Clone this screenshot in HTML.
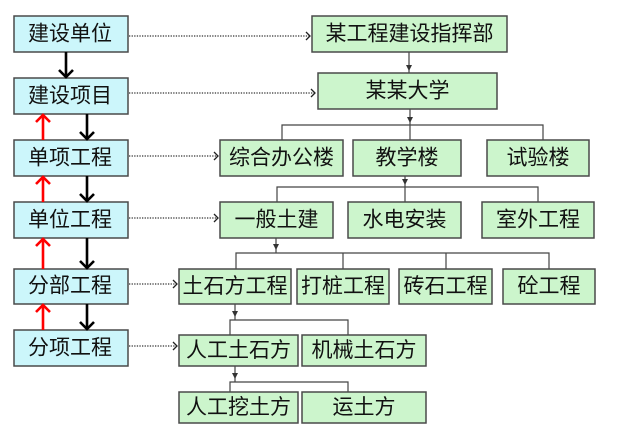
<!DOCTYPE html>
<html><head><meta charset="utf-8"><style>
html,body{margin:0;padding:0;background:#fff;}
svg{display:block;}
text{font-family:"Liberation Sans","Noto Sans CJK SC",sans-serif;font-size:21px;fill:#111;text-anchor:middle;dominant-baseline:central;}
.b{fill:#ccf6fb;stroke:#4a4a4a;stroke-width:1.5;}
.g{fill:#ccf5cc;stroke:#4a4a4a;stroke-width:1.5;}
.c{stroke:#444;stroke-width:1.2;fill:none;}
.d{stroke:#333;stroke-width:1.3;stroke-dasharray:1.3 1.3;fill:none;}
.dh{stroke:#222;stroke-width:1.3;fill:none;}
.k{stroke:#000;stroke-width:2.6;fill:none;}
.r{stroke:#f00;stroke-width:2.6;fill:none;}
</style></head><body>
<svg width="640" height="437" viewBox="0 0 640 437" xmlns="http://www.w3.org/2000/svg">
<!-- left boxes -->
<rect class="b" x="14" y="16" width="114" height="36"/><text x="70" y="34">建设单位</text>
<rect class="b" x="14" y="78" width="114" height="36"/><text x="70" y="96">建设项目</text>
<rect class="b" x="14" y="140" width="114" height="36"/><text x="70" y="158">单项工程</text>
<rect class="b" x="14" y="202" width="114" height="36"/><text x="70" y="220">单位工程</text>
<rect class="b" x="14" y="269" width="114" height="35"/><text x="70" y="286">分部工程</text>
<rect class="b" x="14" y="330" width="114" height="36"/><text x="70" y="348">分项工程</text>

<!-- black arrows -->
<line class="k" x1="66" y1="52" x2="66" y2="77"/><polyline class="k" points="59,70 66,77 73,70"/>
<line class="k" x1="87" y1="114" x2="87" y2="139"/><polyline class="k" points="80,132 87,139 94,132"/>
<line class="k" x1="87" y1="176" x2="87" y2="201"/><polyline class="k" points="80,194 87,201 94,194"/>
<line class="k" x1="87" y1="238" x2="87" y2="268"/><polyline class="k" points="80,261 87,268 94,261"/>
<line class="k" x1="87" y1="304" x2="87" y2="329"/><polyline class="k" points="80,322 87,329 94,322"/>
<!-- red arrows -->
<line class="r" x1="43" y1="140" x2="43" y2="115"/><polyline class="r" points="36,122 43,115 50,122"/>
<line class="r" x1="43" y1="202" x2="43" y2="177"/><polyline class="r" points="36,184 43,177 50,184"/>
<line class="r" x1="43" y1="269" x2="43" y2="239"/><polyline class="r" points="36,246 43,239 50,246"/>
<line class="r" x1="43" y1="330" x2="43" y2="305"/><polyline class="r" points="36,312 43,305 50,312"/>

<!-- dotted arrows -->
<line class="d" x1="129" y1="36" x2="310" y2="36"/><polyline class="dh" points="306,32 310,36 306,40"/>
<line class="d" x1="129" y1="93" x2="315" y2="93"/><polyline class="dh" points="311,89 315,93 311,97"/>
<line class="d" x1="129" y1="156" x2="218" y2="156"/><polyline class="dh" points="214,152 218,156 214,160"/>
<line class="d" x1="129" y1="218" x2="218" y2="218"/><polyline class="dh" points="214,214 218,218 214,222"/>
<line class="d" x1="129" y1="284" x2="177" y2="284"/><polyline class="dh" points="173,280 177,284 173,288"/>
<line class="d" x1="129" y1="346" x2="177" y2="346"/><polyline class="dh" points="173,342 177,346 173,350"/>

<!-- tree connectors -->
<line class="c" x1="409" y1="52" x2="409" y2="73"/><polygon points="406,65 412,65 409,71" fill="#333"/>
<line class="c" x1="410" y1="109" x2="410" y2="140"/><polygon points="407,117 413,117 410,123" fill="#333"/>
<polyline class="c" points="282,140 282,125 543,125 543,140"/>

<line class="c" x1="405" y1="176" x2="405" y2="202"/><polygon points="402,179 408,179 405,185" fill="#333"/>
<polyline class="c" points="277,202 277,187 538,187 538,202"/>

<line class="c" x1="276" y1="238" x2="276" y2="253"/><polygon points="273,244 279,244 276,250" fill="#333"/>
<polyline class="c" points="236,269 236,253 549,253 549,269"/>
<line class="c" x1="343" y1="253" x2="343" y2="269"/>
<line class="c" x1="446" y1="253" x2="446" y2="269"/>

<line class="c" x1="235" y1="304" x2="235" y2="320"/><polygon points="232,311 238,311 235,317" fill="#333"/>
<polyline class="c" points="230,335 230,320 348,320 348,335"/>

<line class="c" x1="235" y1="366" x2="235" y2="382"/><polygon points="232,373 238,373 235,379" fill="#333"/>
<polyline class="c" points="230,392 230,382 348,382 348,392"/>

<!-- right boxes -->
<rect class="g" x="312" y="16" width="195" height="36"/><text x="409.5" y="34">某工程建设指挥部</text>
<rect class="g" x="318" y="73" width="179" height="36"/><text x="407.5" y="91">某某大学</text>

<rect class="g" x="220" y="140" width="123" height="36"/><text x="281.5" y="158">综合办公楼</text>
<rect class="g" x="353" y="140" width="108" height="36"/><text x="407" y="158">教学楼</text>
<rect class="g" x="487" y="140" width="102" height="36"/><text x="538" y="158">试验楼</text>

<rect class="g" x="220" y="202" width="113" height="36"/><text x="276.5" y="220">一般土建</text>
<rect class="g" x="348" y="202" width="113" height="36"/><text x="404.5" y="220">水电安装</text>
<rect class="g" x="482" y="202" width="112" height="36"/><text x="538" y="220">室外工程</text>

<rect class="g" x="179" y="269" width="112" height="35"/><text x="235" y="286.5">土石方工程</text>
<rect class="g" x="297" y="269" width="92" height="35"/><text x="343" y="286.5">打桩工程</text>
<rect class="g" x="399" y="269" width="93" height="35"/><text x="445.5" y="286.5">砖石工程</text>
<rect class="g" x="503" y="269" width="92" height="35"/><text x="549" y="286.5">砼工程</text>

<rect class="g" x="179" y="335" width="119" height="31"/><text x="238.5" y="350.5">人工土石方</text>
<rect class="g" x="302" y="335" width="124" height="31"/><text x="364" y="350.5">机械土石方</text>

<rect class="g" x="179" y="392" width="119" height="31"/><text x="238.5" y="407.5">人工挖土方</text>
<rect class="g" x="302" y="392" width="124" height="31"/><text x="364" y="407.5">运土方</text>
</svg>
</body></html>
